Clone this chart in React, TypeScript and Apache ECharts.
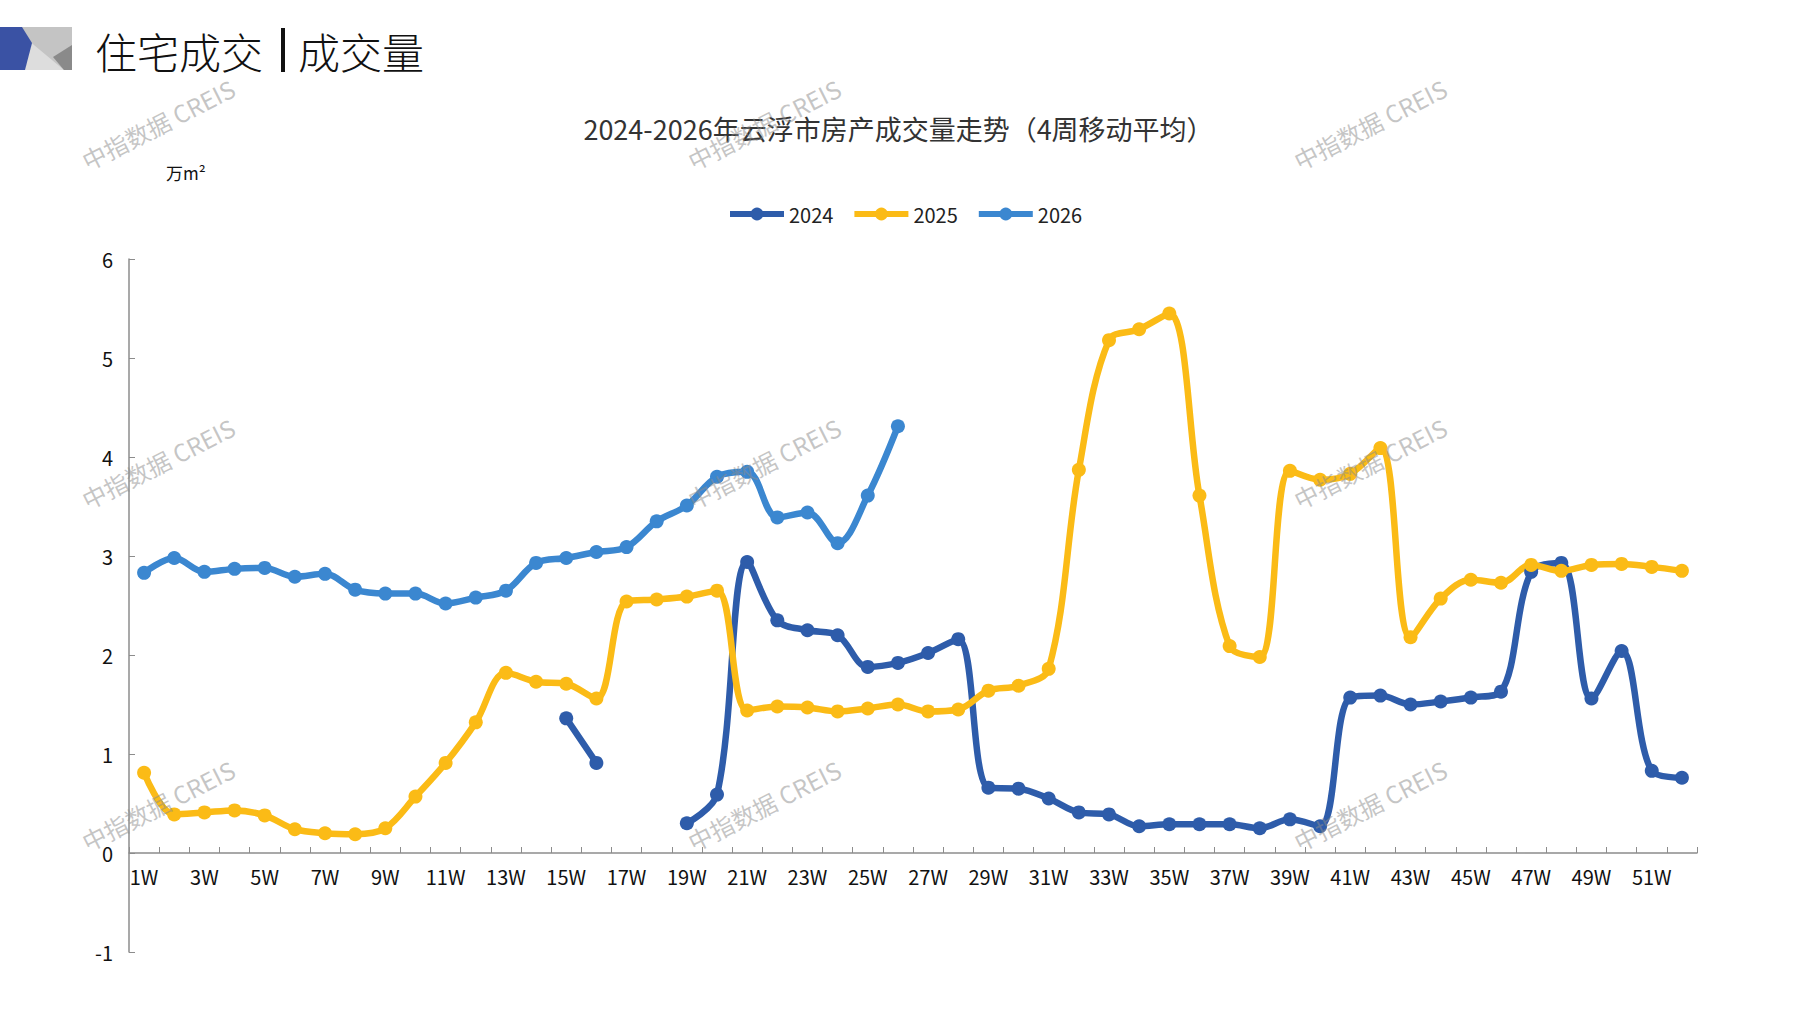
import React, { useEffect, useRef } from 'react';
import * as echarts from 'echarts';

const weeks = Array.from({ length: 52 }, (_, i) => `${i + 1}W`);
const seriesNames = ['2024', '2025', '2026'];

// 4-week moving average, 万㎡
const v2024 = [
  null, null, null, null, null, null, null, null, null, null, null, null, null, null,
  1.36, 0.91, null, null, 0.30, 0.59, 2.94, 2.35, 2.25, 2.20, 1.88, 1.92, 2.02, 2.16,
  0.66, 0.65, 0.55, 0.41, 0.39, 0.27, 0.29, 0.29, 0.29, 0.25, 0.34, 0.27,
  1.57, 1.59, 1.50, 1.53, 1.57, 1.63, 2.84, 2.93, 1.56, 2.04, 0.83, 0.76,
];
const v2025 = [
  0.81, 0.39, 0.41, 0.43, 0.38, 0.24, 0.20, 0.19, 0.25, 0.57, 0.91, 1.32, 1.82,
  1.73, 1.71, 1.56, 2.54, 2.56, 2.59, 2.65, 1.44, 1.48, 1.47, 1.43, 1.46, 1.50,
  1.43, 1.45, 1.64, 1.69, 1.86, 3.87, 5.18, 5.29, 5.45, 3.61, 2.09, 1.98, 3.86,
  3.77, 3.83, 4.09, 2.18, 2.57, 2.76, 2.73, 2.91, 2.85, 2.91, 2.92, 2.89, 2.85,
];
const v2026 = [
  2.83, 2.98, 2.84, 2.87, 2.88, 2.79, 2.82, 2.66, 2.62, 2.62, 2.52, 2.58, 2.65,
  2.93, 2.98, 3.04, 3.09, 3.35, 3.51, 3.80, 3.85, 3.39, 3.44, 3.13, 3.61, 4.31,
];

const colors = ['#2e5caa', '#fbbb16', '#3b87d0'];
const narrow = '"Liberation Sans Narrow", "Noto Sans CJK SC", sans-serif';
const cjk = '"Noto Sans CJK SC", sans-serif';

const markPos = [
  [158, 124], [764, 124], [1370, 124],
  [158, 463], [764, 463], [1370, 463],
  [158, 805], [764, 805], [1370, 805],
];

export default function App() {
  const ref = useRef<HTMLDivElement>(null);
  useEffect(() => {
    if (!ref.current) return;
    const chart = echarts.init(ref.current, null, { renderer: 'svg' });
    const data = [v2024, v2025, v2026];
    chart.setOption({
      animation: false,
      backgroundColor: '#fff',
      title: {
        text: '2024-2026年云浮市房产成交量走势（4周移动平均）',
        left: 'center',
        top: 110,
        textStyle: { fontSize: 27, fontWeight: 'normal', color: '#333', fontFamily: cjk },
      },
      legend: {
        data: seriesNames,
        top: 199,
        left: 722,
        itemWidth: 54,
        itemHeight: 16,
        itemGap: 18,
        lineStyle: { width: 6 },
        textStyle: { fontSize: 20, color: '#222', fontFamily: narrow },
      },
      grid: { left: 129, right: 100, top: 259, bottom: 58, containLabel: false },
      xAxis: {
        type: 'category',
        data: weeks,
        boundaryGap: true,
        position: 'bottom',
        offset: -99,
        axisLine: { onZero: false, lineStyle: { color: '#8c8c8c', width: 1.5 } },
        axisTick: { show: true, inside: true, length: 6, interval: 0, lineStyle: { color: '#8c8c8c' } },
        axisLabel: { interval: 1, fontSize: 20, color: '#111', margin: 13, fontFamily: narrow },
      },
      yAxis: {
        type: 'value',
        min: -1,
        max: 6,
        interval: 1,
        axisLine: { show: true, lineStyle: { color: '#8c8c8c', width: 1.5 } },
        axisTick: { show: true, inside: true, length: 6, lineStyle: { color: '#8c8c8c' } },
        axisLabel: { fontSize: 20, color: '#111', margin: 16, fontFamily: narrow },
        splitLine: { show: false },
      },
      series: seriesNames.map((name, i) => ({
        name,
        type: 'line',
        data: data[i],
        smooth: 0.35,
        connectNulls: false,
        symbol: 'circle',
        symbolSize: 14,
        color: colors[i],
        lineStyle: { width: 6.5, color: colors[i] },
        itemStyle: { color: colors[i] },
      })),
      graphic: [
        { type: 'rect', shape: { x: 0, y: 27, width: 72, height: 43 }, style: { fill: '#c4c4c4' } },
        { type: 'polygon', shape: { points: [[28, 40], [24, 70], [64, 70]] }, style: { fill: '#dddddd' } },
        { type: 'polygon', shape: { points: [[53, 57], [72, 45], [72, 70], [64, 70]] }, style: { fill: '#8a8a8a' } },
        { type: 'polygon', shape: { points: [[0, 27], [22, 27], [32, 43], [25, 70], [0, 70]] }, style: { fill: '#3a52a4' } },
        { type: 'text', x: 95, y: 50, style: { text: '住宅成交', fontSize: 42, fill: '#111', fontFamily: cjk, fontWeight: 300, verticalAlign: 'middle' } },
        { type: 'rect', shape: { x: 281, y: 28, width: 4, height: 44 }, style: { fill: '#111' } },
        { type: 'text', x: 298, y: 50, style: { text: '成交量', fontSize: 42, fill: '#111', fontFamily: cjk, fontWeight: 300, verticalAlign: 'middle' } },
        { type: 'text', x: 166, y: 172, style: { text: '万m²', fontSize: 17, fill: '#111', fontFamily: narrow, verticalAlign: 'middle' } },
        ...markPos.map(([x, y]) => ({
          type: 'text',
          x,
          y,
          rotation: 0.47,
          z: 100,
          style: {
            text: '中指数据 CREIS',
            fontSize: 24,
            fill: 'rgba(140,140,140,0.5)',
            fontFamily: cjk,
            align: 'center',
            verticalAlign: 'middle',
          },
        })),
      ],
    });
    const onResize = () => chart.resize();
    window.addEventListener('resize', onResize);
    return () => { window.removeEventListener('resize', onResize); chart.dispose(); };
  }, []);
  return <div ref={ref} style={{ position: 'fixed', left: 0, top: 0, width: '100vw', height: '100vh' }} />;
}
